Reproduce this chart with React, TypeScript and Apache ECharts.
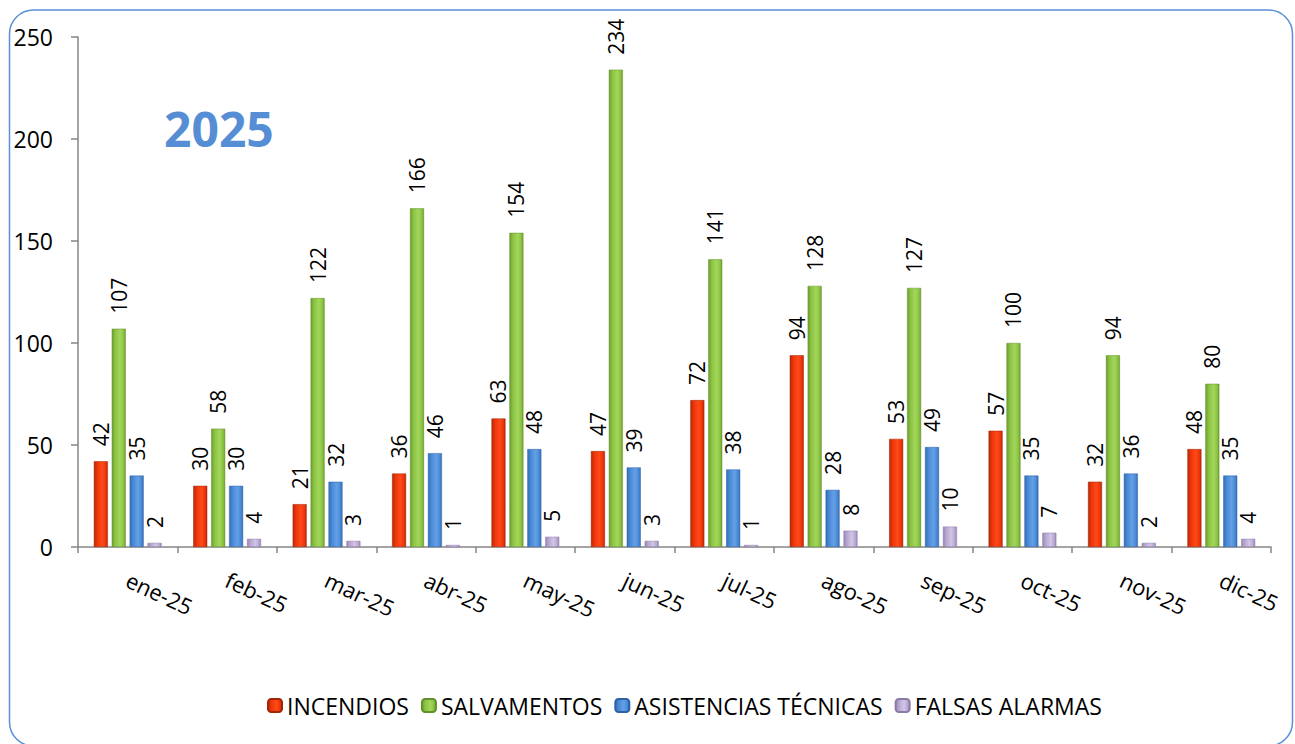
import React, { useEffect, useRef } from "react";
import * as echarts from "echarts";

const categories = ["ene-25", "feb-25", "mar-25", "abr-25", "may-25", "jun-25", "jul-25", "ago-25", "sep-25", "oct-25", "nov-25", "dic-25"];
const incendios = [42, 30, 21, 36, 63, 47, 72, 94, 53, 57, 32, 48];
const salvamentos = [107, 58, 122, 166, 154, 234, 141, 128, 127, 100, 94, 80];
const asistencias = [35, 30, 32, 46, 48, 39, 38, 28, 49, 35, 36, 35];
const falsas = [2, 4, 3, 1, 5, 3, 1, 8, 10, 7, 2, 4];
const yTicks = { min: 0, max: 250, interval: 50 };

const FONT = "'Open Sans', sans-serif";

function grad(dark: string, mid: string, light: string) {
  return new echarts.graphic.LinearGradient(0, 0, 1, 0, [
    { offset: 0, color: dark },
    { offset: 0.25, color: mid },
    { offset: 0.6, color: light },
    { offset: 0.85, color: mid },
    { offset: 1, color: dark },
  ]);
}

export default function App() {
  const ref = useRef<HTMLDivElement>(null);
  useEffect(() => {
    if (!ref.current) return;
    const chart = echarts.init(ref.current, null, { renderer: "svg" });
    const label = {
      show: true,
      position: "top",
      rotate: 90,
      align: "left",
      verticalAlign: "middle",
      distance: 15,
      fontSize: 21,
      fontFamily: FONT,
      color: "#000",
    };
    const mk = (name: string, data: number[], color: any, border: string) => ({
      name,
      type: "bar",
      data,
      barWidth: 14,
      barGap: "28%",
      itemStyle: { color, borderColor: border, borderWidth: 0.5 },
      label,
    });
    chart.setOption({
      animation: false,
      backgroundColor: "#fff",
      graphic: [
        {
          type: "rect",
          shape: { x: 9.5, y: 10, width: 1283, height: 736, r: 24 },
          style: { fill: "none", stroke: "#5b8fd6", lineWidth: 1.5 },
          z: -1,
        },
        {
          type: "text",
          left: 164,
          top: 104,
          style: { text: "2025", fill: "#558ed5", fontSize: 48, fontWeight: "bold", fontFamily: FONT },
        },
      ],
      grid: { left: 78, right: 24, top: 37, bottom: 197, containLabel: false },
      legend: {
        bottom: 22,
        left: 262,
        itemWidth: 14,
        itemHeight: 13,
        itemGap: 12,
        textStyle: { fontSize: 23, fontFamily: FONT, color: "#000", padding: [0, 0, 0, 0] },
        data: ["INCENDIOS", "SALVAMENTOS", "ASISTENCIAS TÉCNICAS", "FALSAS ALARMAS"],
      },
      xAxis: {
        type: "category",
        data: categories,
        axisLine: { lineStyle: { color: "#868686", width: 1.5 } },
        axisTick: { show: true, length: 6, lineStyle: { color: "#868686", width: 1.5 } },
        axisLabel: { rotate: -25, margin: 31, fontSize: 22, fontFamily: FONT, color: "#000" },
      },
      yAxis: {
        type: "value",
        min: yTicks.min,
        max: yTicks.max,
        interval: yTicks.interval,
        splitLine: { show: false },
        axisLine: { show: true, lineStyle: { color: "#868686", width: 1.5 } },
        axisTick: { show: true, length: 7, lineStyle: { color: "#868686", width: 1.5 } },
        axisLabel: { margin: 25, fontSize: 23, fontFamily: FONT, color: "#000" },
      },
      series: [
        mk("INCENDIOS", incendios, grad("#b82a06", "#ee360b", "#ff4a18"), "#a02505"),
        mk("SALVAMENTOS", salvamentos, grad("#6e9e30", "#8cc444", "#a3d65a"), "#64902a"),
        mk("ASISTENCIAS TÉCNICAS", asistencias, grad("#336fb8", "#4a8ad6", "#65a0e6"), "#2e62a4"),
        mk("FALSAS ALARMAS", falsas, grad("#9a88b4", "#b8a8d2", "#d2c6e6"), "#8c7aa8"),
      ],
    });
    return () => chart.dispose();
  }, []);
  return <div ref={ref} style={{ position: "absolute", left: 0, top: 0, width: 1295, height: 744 }} />;
}
